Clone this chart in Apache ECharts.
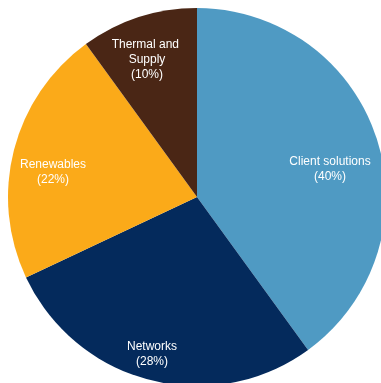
<!DOCTYPE html>
<html>
<head>
<meta charset="utf-8">
<script src="https://cdn.jsdelivr.net/npm/echarts@6/dist/echarts.min.js"></script>
<style>
  html, body { margin: 0; padding: 0; background: #fff; }
  #chart { width: 381px; height: 383px; }
</style>
</head>
<body>
<div id="chart"></div>
<script>
// Business segment shares (%), drawn clockwise from 12 o'clock
const segments = ['Client solutions', 'Networks', 'Renewables', 'Thermal and Supply'];
const shares = [40, 28, 22, 10];
const segmentColors = ['#4f9ac3', '#042a5c', '#fbaa19', '#4a2615'];

// Label anchor points inside each slice (pixels)
const labelSpots = [[330, 169], [152, 354], [53, 172], [147, 60]];

const chart = echarts.init(document.getElementById('chart'), null, { renderer: 'canvas' });

chart.setOption({
  animation: false,
  series: [{
    type: 'pie',
    center: [197, 197],
    radius: 189,
    startAngle: 90,
    clockwise: true,
    silent: true,
    itemStyle: { borderWidth: 0 },
    label: {
      show: true,
      position: 'inside',
      color: '#ffffff',
      fontFamily: 'Liberation Sans, Arial, sans-serif',
      fontSize: 12,
      lineHeight: 15,
      align: 'center',
      formatter: p => p.name + '\n(' + p.value + '%)'
    },
    labelLine: { show: false },
    labelLayout: params => ({
      x: labelSpots[params.dataIndex][0],
      y: labelSpots[params.dataIndex][1],
      align: 'center',
      verticalAlign: 'middle'
    }),
    data: segments.map((name, i) => ({
      name,
      value: shares[i],
      itemStyle: { color: segmentColors[i] },
      label: name === 'Thermal and Supply' ? { width: 72, overflow: 'break' } : {}
    }))
  }]
});
</script>
</body>
</html>
